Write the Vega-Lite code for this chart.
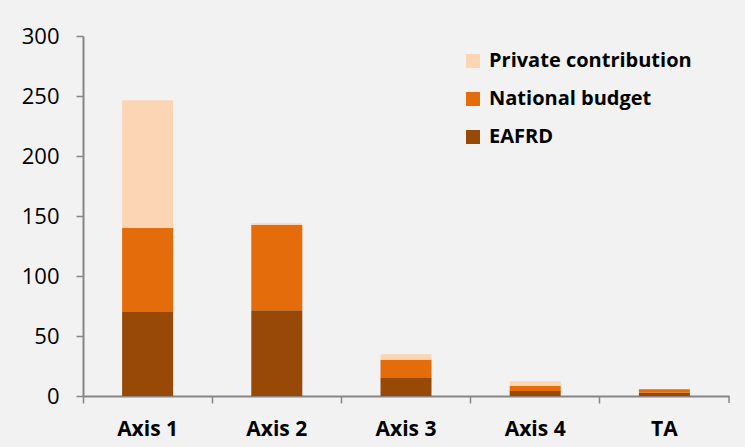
{
  "$schema": "https://vega.github.io/schema/vega-lite/v6.json",
  "width": 646,
  "height": 360,
  "autosize": {"type": "none"},
  "padding": {"left": 83, "top": 36, "right": 16, "bottom": 51},
  "background": "#f2f2f2",
  "config": {
    "view": {"stroke": null},
    "font": "Open Sans"
  },
  "layer": [
    {
      "data": {
        "values": [
          {"cat": "Axis 1", "source": "EAFRD", "o": 1, "value": 70.0},
          {"cat": "Axis 1", "source": "National budget", "o": 2, "value": 70.0},
          {"cat": "Axis 1", "source": "Private contribution", "o": 3, "value": 106.4},
          {"cat": "Axis 2", "source": "EAFRD", "o": 1, "value": 71.4},
          {"cat": "Axis 2", "source": "National budget", "o": 2, "value": 71.1},
          {"cat": "Axis 2", "source": "Private contribution", "o": 3, "value": 1.4},
          {"cat": "Axis 3", "source": "EAFRD", "o": 1, "value": 15.0},
          {"cat": "Axis 3", "source": "National budget", "o": 2, "value": 15.3},
          {"cat": "Axis 3", "source": "Private contribution", "o": 3, "value": 4.4},
          {"cat": "Axis 4", "source": "EAFRD", "o": 1, "value": 4.2},
          {"cat": "Axis 4", "source": "National budget", "o": 2, "value": 4.1},
          {"cat": "Axis 4", "source": "Private contribution", "o": 3, "value": 3.9},
          {"cat": "TA", "source": "EAFRD", "o": 1, "value": 2.8},
          {"cat": "TA", "source": "National budget", "o": 2, "value": 2.8},
          {"cat": "TA", "source": "Private contribution", "o": 3, "value": 0.1}
        ]
      },
      "mark": {"type": "bar", "size": 51},
      "encoding": {
        "x": {
          "field": "cat",
          "type": "nominal",
          "sort": ["Axis 1", "Axis 2", "Axis 3", "Axis 4", "TA"],
          "scale": {"paddingInner": 0, "paddingOuter": 0},
          "axis": {
            "title": null,
            "labelAngle": 0,
            "labelFont": "Open Sans",
            "labelFontWeight": "bold",
            "labelFontSize": 21,
            "labelColor": "#000000",
            "labelPadding": 15,
            "labelLimit": 0,
            "bandPosition": 0,
            "tickSize": 7,
            "tickColor": "#868686",
            "tickWidth": 1.5,
            "domainColor": "#868686",
            "domainWidth": 2
          }
        },
        "y": {
          "field": "value",
          "type": "quantitative",
          "stack": "zero",
          "scale": {"domain": [0, 300], "nice": false},
          "axis": {
            "title": null,
            "values": [0, 50, 100, 150, 200, 250, 300],
            "grid": false,
            "labelFont": "Open Sans",
            "labelFontSize": 22,
            "labelColor": "#000000",
            "labelPadding": 17,
            "tickSize": 7,
            "tickColor": "#868686",
            "tickWidth": 1.5,
            "domainColor": "#868686",
            "domainWidth": 2
          }
        },
        "color": {
          "field": "source",
          "type": "nominal",
          "scale": {
            "domain": ["Private contribution", "National budget", "EAFRD"],
            "range": ["#fcd5b5", "#e46c0a", "#984807"]
          },
          "legend": {
            "title": null,
            "orient": "none",
            "legendX": 380,
            "legendY": 15,
            "symbolType": "square",
            "symbolSize": 196,
            "symbolStrokeWidth": 0,
            "symbolOpacity": 1,
            "labelFont": "Open Sans",
            "labelFontWeight": "bold",
            "labelFontSize": 20,
            "labelColor": "#000000",
            "labelOffset": 6,
            "labelLimit": 0,
            "rowPadding": 18
          }
        },
        "order": {"field": "o", "type": "quantitative"}
      }
    },
    {
      "data": {"values": [{"cat": "TA"}]},
      "mark": {"type": "rule", "color": "#868686", "strokeWidth": 1.5, "y2Offset": 7},
      "encoding": {
        "x": {"field": "cat", "type": "nominal", "bandPosition": 1},
        "y": {"datum": 0},
        "y2": {"datum": 0}
      }
    }
  ]
}
